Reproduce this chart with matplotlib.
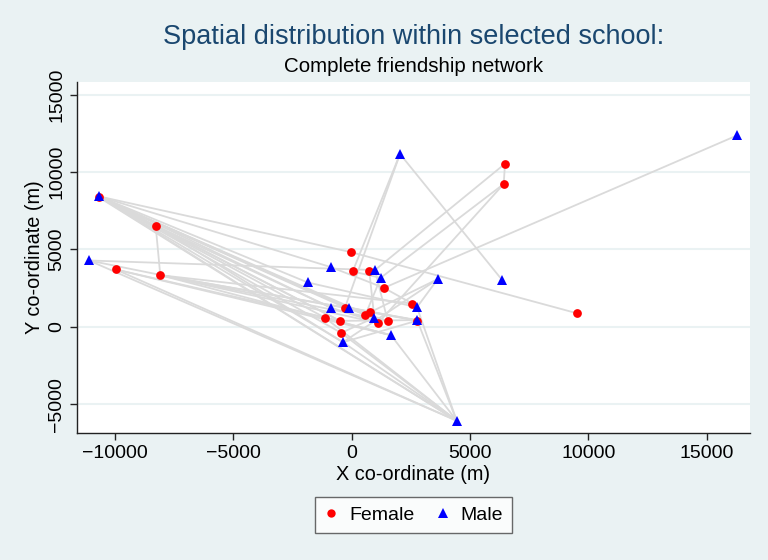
import matplotlib
matplotlib.use("Agg")
import matplotlib.pyplot as plt
from matplotlib.lines import Line2D

plt.rcParams['font.family'] = ['Liberation Sans', 'DejaVu Sans']

# ---- data ----
female_ids = ["F1", "F2", "F3", "F4", "F5", "F6", "F7", "F8", "F9", "F10", "F11",
              "F12", "F13", "F14", "F15", "F16", "F17", "F18", "F19", "F20", "F21"]
female_x = [-10680, -8285, -9976, -8090, -30, 42, 744, 1365, 2562, -283, 575,
            786, -1116, -495, 1124, 1522, 2773, -440, 6480, 6425, 9510]
female_y = [8370, 6530, 3710, 3340, 4830, 3580, 3600, 2520, 1507, 1250, 757,
            951, 582, 388, 259, 388, 408, -388, 10540, 9230, 886]

male_ids = ["M1", "M2", "M3", "M4", "M5", "M6", "M7", "M8", "M9", "M10", "M11",
            "M12", "M13", "M14", "M15", "M16", "M17", "M18"]
male_x = [-10680, -11105, 2042, 16290, 6353, 3635, -875, 985, 1226, -1860, 2760,
          -888, -114, 955, 2773, 1661, -368, 4438]
male_y = [8430, 4290, 11170, 12370, 3040, 3085, 3860, 3670, 3170, 2870, 1270,
          1250, 1250, 602, 440, -537, -990, -6060]

edges = [
    ("M1", "F5"), ("M1", "M7"), ("M1", "M10"), ("M1", "M12"), ("M1", "F13"),
    ("M1", "F14"), ("M1", "F18"), ("M1", "M17"), ("M1", "M18"),
    ("F1", "F10"), ("F1", "M13"), ("F1", "F11"), ("F1", "M14"), ("F1", "M18"),
    ("F2", "F4"), ("F2", "M12"), ("F2", "F14"), ("F2", "M17"),
    ("M2", "M8"), ("M2", "M18"), ("M2", "F16"),
    ("F3", "F14"), ("F3", "M16"), ("F3", "M18"),
    ("F4", "F9"), ("F4", "M15"), ("F4", "F17"), ("F4", "M16"), ("F4", "F15"),
    ("M3", "M5"), ("M3", "F6"), ("M3", "F10"),
    ("F19", "F20"), ("F19", "M8"), ("F20", "M9"), ("F20", "F15"),
    ("M4", "F8"), ("F5", "F21"),
    ("M6", "M11"), ("M6", "F12"), ("M6", "M17"),
    ("M18", "M16"), ("M18", "F17"), ("M18", "M11"), ("M18", "F13"),
    ("M18", "F18"), ("M18", "M17"),
    ("M7", "F8"), ("F6", "M9"), ("F7", "M14"), ("M8", "F16"), ("M10", "M11"),
    ("M12", "F15"), ("M13", "F12"), ("F8", "F9"), ("F9", "M11"), ("F10", "F16"),
    ("F13", "M16"), ("F14", "M15"), ("M13", "F17"), ("F18", "M14"),
    ("M17", "F17"), ("F11", "M9"),
]

x_ticks = [-10000, -5000, 0, 5000, 10000, 15000]
y_ticks = [-5000, 0, 5000, 10000, 15000]

title = "Spatial distribution within selected school:"
subtitle = "Complete friendship network"

# ---- style ----
BG = "#EAF2F3"
EDGE = "#DADADA"

pos = {}
for i, n in enumerate(female_ids):
    pos[n] = (female_x[i], female_y[i])
for i, n in enumerate(male_ids):
    pos[n] = (male_x[i], male_y[i])

fig = plt.figure(figsize=(7.68, 5.60), dpi=100, facecolor=BG)
ax = fig.add_axes([77 / 768, 1 - 433 / 560, (750 - 77) / 768, (433 - 82) / 560])
ax.set_facecolor("white")

for a, b in edges:
    ax.plot([pos[a][0], pos[b][0]], [pos[a][1], pos[b][1]],
            color=EDGE, lw=1.3, zorder=2, solid_capstyle="round")

ax.plot(female_x, female_y, linestyle="none", marker="o", markersize=6.3,
        color="#FF0000", markeredgewidth=0, zorder=3)
ax.plot(male_x, male_y, linestyle="none", marker="^", markersize=7.5,
        color="#0000FF", markeredgewidth=0, zorder=4)

ax.set_xlim(-11610, 16835)
ax.set_ylim(-6854, 15820)
ax.set_xticks(x_ticks)
ax.set_yticks(y_ticks)
ax.grid(True, axis="y", color=BG, lw=1.5, zorder=0)
ax.set_axisbelow(True)

for s in ["top", "right"]:
    ax.spines[s].set_visible(False)
for s in ["left", "bottom"]:
    ax.spines[s].set_color("#222222")
    ax.spines[s].set_linewidth(1.0)

ax.tick_params(axis="both", direction="out", length=5, width=1.0,
               color="#222222", labelsize=14, labelcolor="#000000")
for lab in ax.get_yticklabels():
    lab.set_rotation(90)
    lab.set_va("center")

ax.set_xlabel("X co-ordinate (m)", fontsize=14.3, labelpad=2)
ax.set_ylabel("Y co-ordinate (m)", fontsize=14.3, labelpad=3)

fig.text(413.5 / 768, 1 - 37 / 560, title, ha="center", va="center",
         fontsize=19.5, color="#1A476F")
fig.text(413.5 / 768, 1 - 67 / 560, subtitle, ha="center", va="center",
         fontsize=14.8, color="#000000")

handles = [
    Line2D([], [], linestyle="none", marker="o", markersize=6, color="#FF0000",
           markeredgewidth=0, label="Female"),
    Line2D([], [], linestyle="none", marker="^", markersize=7.5, color="#0000FF",
           markeredgewidth=0, label="Male"),
]
leg = fig.legend(handles=handles, loc="center", ncol=2,
                 bbox_to_anchor=(413.5 / 768, 1 - 515 / 560), frameon=True,
                 fancybox=False, fontsize=14, handlelength=0.8,
                 handletextpad=0.5, columnspacing=1.1, borderpad=0.45)
leg.get_frame().set_edgecolor("#444444")
leg.get_frame().set_linewidth(1.0)
leg.get_frame().set_facecolor("white")

fig.savefig("out.png", dpi=100, facecolor=BG)
